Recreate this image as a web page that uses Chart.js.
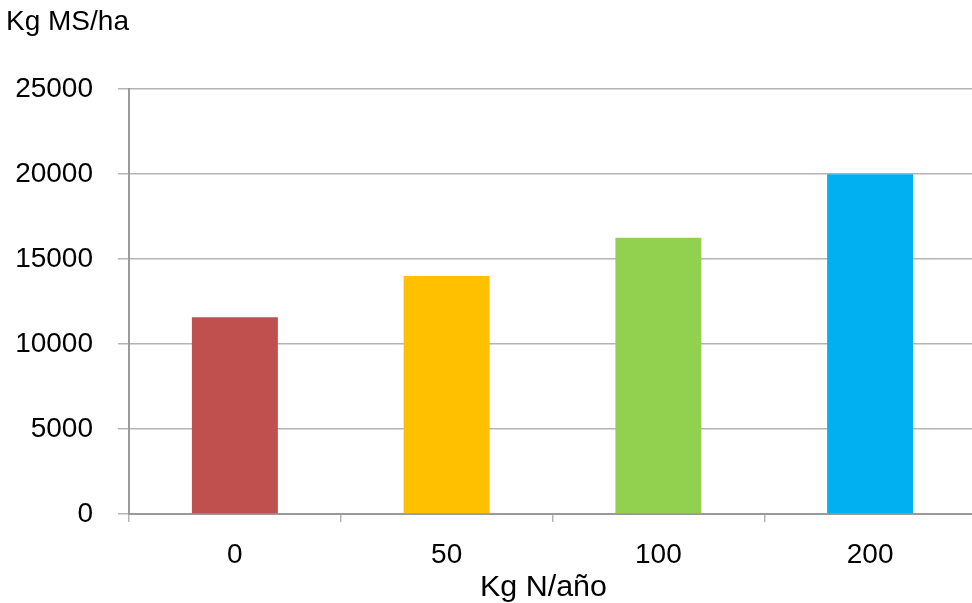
<!DOCTYPE html>
<html>
<head>
<meta charset="utf-8">
<script src="https://cdn.jsdelivr.net/npm/chart.js@4"></script>
<style>
  html, body { margin: 0; padding: 0; background: #fff; overflow: hidden; }
  #wrap { width: 976px; height: 603px; position: relative; }
</style>
</head>
<body>
<div id="wrap"><canvas id="c"></canvas></div>
<script>
// Dry matter yield by nitrogen dose
const categories = ['0', '50', '100', '200'];
const yieldKg = [11570, 14000, 16250, 19980];
const barColors = ['#C0504D', '#FFC000', '#92D050', '#00B0F0'];
const yTicks = [0, 5000, 10000, 15000, 20000, 25000];
const yTitle = 'Kg MS/ha';
const xTitle = 'Kg N/año';

const FONT = 'Liberation Sans';
const gridColor = '#b4b4b4';

// Axis captions: y caption sits horizontally above the plot, x caption below the labels
const axisCaptions = {
  id: 'axisCaptions',
  afterDraw(chart) {
    const { ctx, chartArea } = chart;
    ctx.save();
    ctx.fillStyle = '#000';
    ctx.font = '28px "' + FONT + '"';
    ctx.textAlign = 'left';
    ctx.textBaseline = 'middle';
    ctx.fillText(yTitle, 6, chartArea.top - 67);

    const cx = (chartArea.left + chartArea.right) / 2 - 9;
    ctx.translate(cx, chartArea.bottom + 82);
    ctx.scale(1.05, 1);
    ctx.font = '29px "' + FONT + '"';
    ctx.textAlign = 'center';
    ctx.textBaseline = 'alphabetic';
    ctx.fillText(xTitle, 0, 0);
    ctx.restore();
  }
};

new Chart(document.getElementById('c'), {
  type: 'bar',
  data: {
    labels: categories,
    datasets: [{
      data: yieldKg,
      backgroundColor: barColors,
      borderWidth: 0,
      categoryPercentage: 1,
      barPercentage: 0.406
    }]
  },
  options: {
    responsive: true,
    maintainAspectRatio: false,
    animation: false,
    layout: { padding: { top: 89, left: 0, right: 0, bottom: 0 } },
    plugins: {
      legend: { display: false },
      tooltip: { enabled: false }
    },
    scales: {
      x: {
        offset: true,
        grid: {
          offset: true,
          drawOnChartArea: false,
          drawTicks: true,
          tickLength: 8,
          color: gridColor,
          lineWidth: 1.5
        },
        border: { color: '#9a9a9a', width: 2 },
        ticks: {
          color: '#000',
          padding: 19,
          font: { family: FONT, size: 28, lineHeight: 1 }
        },
        afterFit(scale) { scale.height = 89; }
      },
      y: {
        min: 0,
        max: 25000,
        afterBuildTicks(scale) {
          scale.ticks = yTicks.map(v => ({ value: v }));
        },
        grid: {
          color: gridColor,
          lineWidth: 1.5,
          drawTicks: true,
          tickLength: 11
        },
        border: { color: '#9a9a9a', width: 2 },
        ticks: {
          color: '#000',
          padding: 25,
          font: { family: FONT, size: 28 },
          callback: v => String(v)
        },
        afterFit(scale) { scale.width = 129; }
      }
    }
  },
  plugins: [axisCaptions]
});
</script>
</body>
</html>
